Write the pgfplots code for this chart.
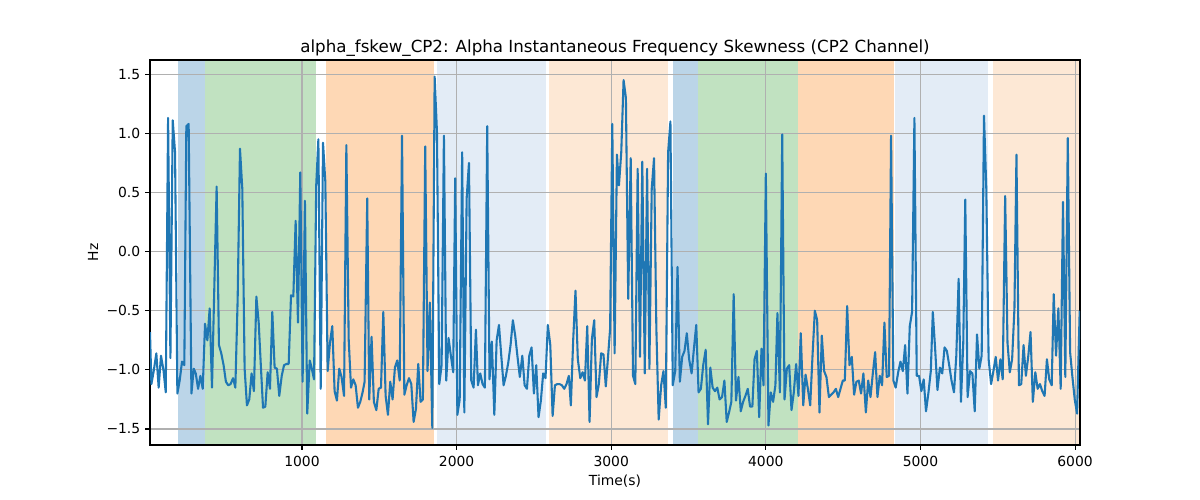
\documentclass[border=0pt]{standalone}
\usepackage{pgfplots}
\pgfplotsset{compat=1.18}
\usepackage{pgfplotstable}
\usepackage{fontspec}
\setmainfont{DejaVu Sans}
\definecolor{tabblue}{RGB}{31,119,180}
\definecolor{spBlue}{RGB}{187,213,232}
\definecolor{spGreen}{RGB}{193,226,193}
\definecolor{spOrange}{RGB}{254,216,181}
\definecolor{spLBlue}{RGB}{227,236,246}
\definecolor{spLOrange}{RGB}{253,232,213}
\definecolor{gridgray}{RGB}{176,176,176}
\pgfplotstableread{
x y
17 -0.68
26 -1.12
41 -1.01
58 -0.86
73 -1.15
88 -0.88
104 -1.00
119 -1.19
134 1.13
149 -0.90
164 1.11
179 0.84
194 -1.20
209 -1.09
224 -0.93
239 -0.96
252 1.06
267 1.08
285 -1.20
300 -0.99
313 -1.03
328 -1.16
343 -1.05
358 -1.16
373 -0.61
388 -0.75
403 -0.48
418 -1.15
433 -0.30
448 0.55
463 -0.79
478 -0.86
493 -0.96
508 -1.10
523 -1.13
538 -1.12
554 -1.07
569 -1.15
584 -0.40
599 0.87
614 0.53
629 -0.99
644 -1.30
659 -1.25
674 -1.03
689 -1.18
705 -0.38
720 -0.60
733 -0.94
748 -1.32
763 -1.31
778 -1.02
793 -1.16
808 -0.51
823 -0.98
838 -0.99
853 -1.22
869 -1.05
884 -0.96
899 -0.95
914 -0.95
929 -0.37
944 -0.38
959 0.26
974 -0.60
989 0.67
1004 -1.10
1019 0.43
1034 -1.37
1050 -0.92
1062 -0.98
1078 -1.08
1092 0.56
1106 0.95
1121 -1.16
1136 0.92
1151 0.59
1166 -1.01
1181 -0.77
1196 -0.63
1211 -1.18
1226 -1.26
1241 -0.99
1256 -1.06
1272 -1.22
1287 0.90
1302 -0.74
1317 -1.15
1332 -1.08
1347 -1.13
1362 -1.32
1377 -1.27
1392 -1.19
1405 -1.10
1422 0.45
1435 -1.25
1450 -0.72
1465 -1.27
1481 -1.34
1496 -1.16
1511 -1.15
1526 -0.51
1541 -1.22
1556 -1.38
1571 -1.10
1586 -1.25
1601 -0.98
1616 -0.92
1632 -1.09
1647 0.98
1662 -1.21
1677 -1.13
1692 -1.07
1707 -1.12
1722 -1.44
1737 -1.33
1752 -0.95
1767 -1.27
1782 -1.25
1797 0.89
1812 -1.01
1827 -0.43
1843 -1.49
1858 1.48
1873 1.01
1888 -1.12
1903 -0.96
1918 0.98
1933 -1.09
1948 -0.73
1963 -0.88
1978 -1.02
1991 0.62
2005 -1.38
2020 -1.25
2036 0.84
2050 -1.36
2065 0.45
2080 0.75
2095 -1.09
2110 -1.15
2125 -0.66
2138 -1.13
2153 -1.03
2168 -1.12
2183 -1.15
2198 1.06
2213 -1.08
2228 -0.76
2244 -1.38
2259 -0.75
2274 -0.62
2289 -0.88
2304 -1.13
2319 -1.05
2334 -0.94
2349 -0.79
2364 -0.58
2379 -0.71
2394 -0.89
2409 -1.06
2425 -0.88
2440 -1.13
2455 -1.16
2470 -0.88
2485 -0.81
2500 -1.20
2515 -0.96
2530 -1.40
2545 -1.26
2560 -1.03
2575 -1.07
2590 -0.62
2606 -0.79
2621 -1.39
2636 -1.13
2651 -1.12
2666 -1.12
2681 -1.13
2696 -1.16
2711 -1.12
2726 -1.05
2739 -1.30
2754 -0.75
2769 -0.33
2784 -0.91
2800 -1.07
2815 -1.02
2830 -1.09
2845 -0.63
2860 -1.44
2875 -0.74
2890 -0.58
2905 -1.23
2920 -1.12
2935 -0.86
2950 -0.87
2965 -1.14
2980 -0.88
2993 -0.65
3007 1.08
3022 -0.86
3037 0.82
3050 0.56
3065 0.84
3080 1.45
3095 1.30
3110 -0.40
3126 0.79
3141 -1.05
3156 -1.12
3171 0.70
3186 -0.89
3201 0.76
3217 -1.03
3232 0.70
3247 -0.99
3262 0.53
3277 0.79
3292 -0.65
3307 -1.42
3323 -1.13
3338 -1.01
3353 -1.32
3368 0.84
3383 1.10
3398 -1.13
3414 -1.01
3429 -0.13
3444 -1.10
3459 -0.89
3474 -0.84
3489 -0.69
3504 -0.91
3520 -1.03
3535 -0.82
3550 -0.62
3565 -1.19
3580 -1.16
3595 -0.96
3611 -0.83
3626 -1.46
3641 -0.98
3656 -1.15
3671 -1.18
3686 -1.15
3701 -1.25
3717 -1.23
3732 -1.09
3747 -1.44
3762 -1.36
3777 -1.27
3792 -0.36
3807 -1.26
3823 -1.06
3838 -1.35
3853 -1.27
3868 -1.22
3883 -1.16
3898 -1.31
3913 -1.31
3927 -0.91
3942 -0.84
3957 -1.40
3972 -0.82
3985 -1.13
4000 0.66
4017 -1.47
4032 -1.19
4047 -1.27
4062 -1.13
4075 -0.52
4091 -1.19
4106 0.99
4121 -1.25
4136 -0.99
4151 -0.96
4166 -1.34
4181 -1.19
4196 -0.95
4211 -1.22
4226 -0.69
4242 -1.30
4257 -1.04
4272 -1.16
4287 -1.30
4302 -0.88
4317 -0.50
4332 -0.58
4347 -1.36
4362 -0.71
4377 -1.01
4392 -1.06
4408 -1.23
4423 -1.21
4438 -1.19
4453 -1.16
4468 -1.23
4483 -1.16
4498 -1.09
4511 -1.09
4526 -0.46
4541 -0.96
4556 -0.89
4571 -1.21
4586 -1.10
4601 -1.09
4616 -1.20
4631 -1.03
4647 -1.36
4662 -1.09
4677 -1.23
4692 -1.03
4707 -0.85
4722 -1.23
4737 -1.05
4752 -1.13
4767 -0.60
4782 -1.06
4797 -1.05
4810 0.98
4825 -1.09
4840 -1.15
4856 -1.02
4871 -0.93
4886 -1.01
4901 -0.79
4916 -1.20
4931 -0.63
4946 -0.51
4961 1.13
4976 -1.05
4991 -1.05
5006 -1.18
5021 -1.08
5036 -1.35
5052 -1.19
5067 -1.01
5080 -0.51
5095 -0.82
5110 -1.17
5126 -0.98
5141 -1.03
5156 -0.81
5171 -0.84
5186 -0.96
5201 -1.09
5217 -1.19
5232 -0.88
5247 -0.23
5262 -1.27
5277 -0.77
5290 0.44
5305 -1.23
5321 -1.01
5336 -1.03
5351 -1.35
5366 -0.70
5381 -0.99
5396 -0.88
5411 1.15
5426 0.53
5441 -0.91
5457 -1.12
5472 -1.01
5487 -0.89
5502 -1.09
5517 -0.91
5532 -1.08
5548 0.47
5563 -0.77
5578 -1.02
5593 -0.91
5608 -0.48
5621 0.82
5637 -1.13
5652 -1.12
5667 -0.79
5682 -1.05
5697 -0.89
5712 -0.68
5727 -1.27
5743 -1.02
5758 -1.16
5773 -1.12
5788 -1.18
5803 -1.22
5818 -0.91
5833 -1.08
5849 -1.13
5862 -0.36
5877 -0.88
5892 -0.48
5907 -1.16
5922 0.42
5937 -1.06
5953 0.96
5968 -0.85
5983 -1.06
5998 -1.25
6013 -1.37
6030 -0.50
}\datatable
\begin{document}
\begin{tikzpicture}
\begin{axis}[
  set layers=standard,
  at={(0,0)}, anchor=south west,
  scale only axis,
  width=669.6bp, height=277.2bp,
  xmin=17, xmax=6032, ymin=-1.635, ymax=1.62,
  xtick={1000,2000,3000,4000,5000,6000},
  xticklabels={1000,2000,3000,4000,5000,6000},
  ytick={-1.5,-1,-0.5,0,0.5,1,1.5},
  yticklabels={−1.5,−1.0,−0.5,0.0,0.5,1.0,1.5},
  tick pos=left, tick align=outside,
  major tick length=3.5bp,
  every tick/.style={black, line width=0.8bp},
  axis line style={line width=0.8bp},
  grid=major,
  grid style={gridgray, line width=0.8bp},
  tick label style={font=\fontsize{10bp}{12bp}\selectfont},
  xlabel={Time(s)}, ylabel={Hz},
  label style={font=\fontsize{10bp}{12bp}\selectfont},
  xlabel style={at={(axis description cs:0.5,0)}, anchor=center, yshift=-26bp},
  ylabel style={at={(axis description cs:0,0.5)}, anchor=center, rotate=0, yshift=41bp},
  title={alpha\_fskew\_CP2: Alpha Instantaneous Frequency Skewness (CP2 Channel)},
  title style={font=\fontsize{12bp}{14bp}\selectfont, at={(axis description cs:0.5,1)}, anchor=center, yshift=2.5bp},
  xticklabel style={yshift=-1bp},
]
\begin{pgfonlayer}{axis background}
\addplot[draw=none, fill=spBlue] coordinates {(196,-1.635) (375,-1.635) (375,1.62) (196,1.62)};
\addplot[draw=none, fill=spGreen] coordinates {(375,-1.635) (1091,-1.635) (1091,1.62) (375,1.62)};
\addplot[draw=none, fill=spOrange] coordinates {(1155,-1.635) (1856,-1.635) (1856,1.62) (1155,1.62)};
\addplot[draw=none, fill=spLBlue] coordinates {(1873,-1.635) (2580,-1.635) (2580,1.62) (1873,1.62)};
\addplot[draw=none, fill=spLOrange] coordinates {(2597,-1.635) (3366,-1.635) (3366,1.62) (2597,1.62)};
\addplot[draw=none, fill=spBlue] coordinates {(3398,-1.635) (3559,-1.635) (3559,1.62) (3398,1.62)};
\addplot[draw=none, fill=spGreen] coordinates {(3559,-1.635) (4205,-1.635) (4205,1.62) (3559,1.62)};
\addplot[draw=none, fill=spOrange] coordinates {(4205,-1.635) (4830,-1.635) (4830,1.62) (4205,1.62)};
\addplot[draw=none, fill=spLBlue] coordinates {(4836,-1.635) (5439,-1.635) (5439,1.62) (4836,1.62)};
\addplot[draw=none, fill=spLOrange] coordinates {(5472,-1.635) (6032,-1.635) (6032,1.62) (5472,1.62)};
\end{pgfonlayer}
\addplot[tabblue, line width=1.5bp, line join=round, mark=none] table[x=x, y=y] {\datatable};
\end{axis}
\path[use as bounding box] (-108bp,-39.6bp) rectangle (756bp,320.4bp);
\end{tikzpicture}
\end{document}
